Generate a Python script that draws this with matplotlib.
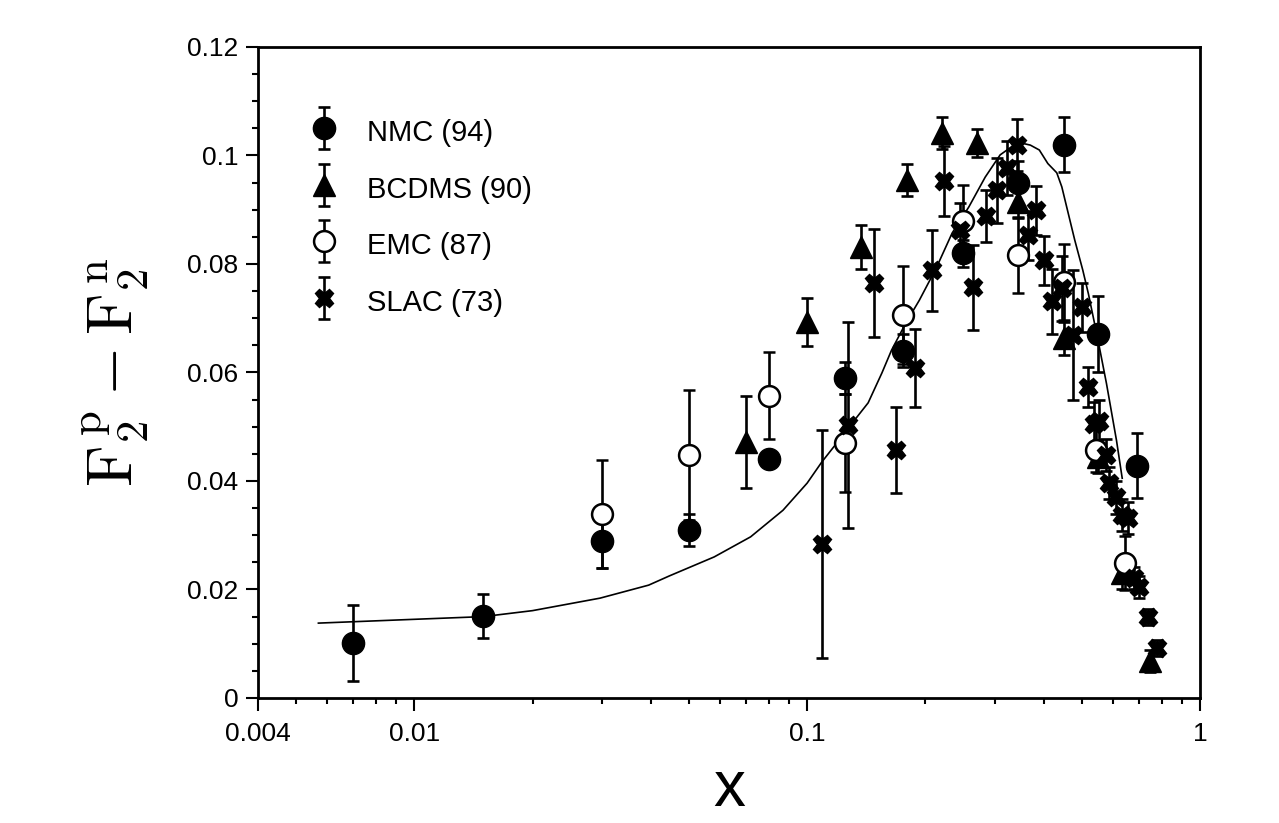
import numpy as np
import matplotlib
matplotlib.use("Agg")
import matplotlib.pyplot as plt
from matplotlib.ticker import FixedLocator, LogLocator, MultipleLocator, NullFormatter
from matplotlib.legend_handler import HandlerErrorbar

plt.rcParams["font.family"] = ["Liberation Sans", "DejaVu Sans"]
plt.rcParams["mathtext.fontset"] = "cm"

# NMC (94)
nmc_x = [0.007, 0.015, 0.03, 0.05, 0.08, 0.125, 0.175, 0.25, 0.345, 0.45, 0.55, 0.69]
nmc_y = [0.0101, 0.0151, 0.0289, 0.0310, 0.0440, 0.0590, 0.0640, 0.0820, 0.0950, 0.1020, 0.0670, 0.0428]
nmc_err = [0.007, 0.004, 0.005, 0.003, 0.001, 0.003, 0.003, 0.0025, 0.004, 0.005, 0.007, 0.006]

# BCDMS (90)
bcdms_x = [0.07, 0.10, 0.137, 0.18, 0.22, 0.27, 0.345, 0.45, 0.55, 0.635, 0.745]
bcdms_y = [0.0472, 0.0693, 0.0831, 0.0955, 0.1041, 0.1023, 0.0914, 0.0663, 0.0445, 0.0230, 0.0068]
bcdms_err = [0.0085, 0.0045, 0.004, 0.003, 0.003, 0.0025, 0.003, 0.003, 0.003, 0.003, 0.002]

# EMC (87)
emc_x = [0.03, 0.05, 0.08, 0.125, 0.175, 0.25, 0.345, 0.45, 0.545, 0.645]
emc_y = [0.0339, 0.0448, 0.0557, 0.0470, 0.0706, 0.0880, 0.0816, 0.0767, 0.0457, 0.0249]
emc_err = [0.010, 0.012, 0.008, 0.009, 0.009, 0.0065, 0.007, 0.007, 0.004, 0.005]

# SLAC (73)
slac_x = [0.109, 0.127, 0.148, 0.168, 0.188, 0.208, 0.223, 0.245, 0.264, 0.285,
          0.305, 0.322, 0.343, 0.364, 0.383, 0.402, 0.421, 0.445, 0.474, 0.500,
          0.520, 0.537, 0.553, 0.578, 0.588, 0.613, 0.634, 0.654, 0.681, 0.700,
          0.736, 0.778]
slac_y = [0.0284, 0.0503, 0.0765, 0.0457, 0.0608, 0.0788, 0.0953, 0.0862, 0.0757, 0.0888,
          0.0936, 0.0977, 0.1019, 0.0853, 0.0899, 0.0807, 0.0731, 0.0755, 0.0669, 0.0720,
          0.0573, 0.0505, 0.0510, 0.0448, 0.0396, 0.0370, 0.0337, 0.0332, 0.0221, 0.0205,
          0.0149, 0.0092]
slac_err = [0.021, 0.019, 0.010, 0.008, 0.0072, 0.0075, 0.0065, 0.005, 0.0078, 0.0048,
            0.006, 0.005, 0.0048, 0.0045, 0.0045, 0.0045, 0.006, 0.006, 0.012, 0.0045,
            0.0037, 0.004, 0.004, 0.003, 0.003, 0.003, 0.003, 0.003, 0.002, 0.002,
            0.0015, 0.0015]

# model curve
curve_x = [0.0057, 0.010, 0.015, 0.020, 0.0297, 0.0395, 0.0446, 0.058, 0.0718, 0.0868,
           0.100, 0.109, 0.119, 0.131, 0.143, 0.155, 0.164, 0.178, 0.193, 0.213,
           0.234, 0.258, 0.284, 0.310, 0.330, 0.350, 0.370, 0.390, 0.410, 0.432,
           0.445, 0.460, 0.480, 0.503, 0.520, 0.550, 0.578, 0.613, 0.634]
curve_y = [0.0138, 0.0145, 0.0150, 0.0161, 0.0184, 0.0208, 0.0225, 0.0260, 0.0297, 0.0346,
           0.0396, 0.0435, 0.0470, 0.0509, 0.0544, 0.0599, 0.0641, 0.0690, 0.0733, 0.0792,
           0.0857, 0.0905, 0.0960, 0.1001, 0.1015, 0.1023, 0.1019, 0.1010, 0.0985, 0.0968,
           0.0942, 0.0899, 0.0844, 0.0789, 0.0745, 0.0660, 0.0580, 0.0475, 0.0405]

fig = plt.figure(figsize=(12.79, 8.23), dpi=100, facecolor="white")
ax = fig.add_axes([0.2017, 0.1519, 0.7365, 0.7911])

ax.plot(curve_x, curve_y, color="black", lw=1.2, zorder=2)

eb_kw = dict(ls="none", ecolor="black", elinewidth=1.9, capsize=4.5, capthick=1.9, zorder=3)
h_nmc = ax.errorbar(nmc_x, nmc_y, yerr=nmc_err, fmt="o", ms=16, mfc="black", mec="black",
                    label="NMC (94)", **eb_kw)
h_bcdms = ax.errorbar(bcdms_x, bcdms_y, yerr=bcdms_err, fmt="^", ms=16, mfc="black", mec="black",
                      label="BCDMS (90)", **eb_kw)
h_emc = ax.errorbar(emc_x, emc_y, yerr=emc_err, fmt="o", ms=15, mfc="white", mec="black",
                    mew=1.8, label="EMC (87)", **eb_kw)
h_slac = ax.errorbar(slac_x, slac_y, yerr=slac_err, fmt="X", ms=13.5, mfc="black", mec="black",
                     label="SLAC (73)", **eb_kw)

ax.set_xscale("log")
ax.set_xlim(0.004, 1)
ax.set_ylim(0, 0.12)

ax.xaxis.set_major_locator(FixedLocator([0.004, 0.01, 0.1, 1]))
ax.set_xticklabels(["0.004", "0.01", "0.1", "1"])
ax.xaxis.set_minor_locator(LogLocator(base=10, subs=np.arange(2, 10), numticks=20))
ax.xaxis.set_minor_formatter(NullFormatter())
ax.set_yticks([0, 0.02, 0.04, 0.06, 0.08, 0.1, 0.12])
ax.set_yticklabels(["0", "0.02", "0.04", "0.06", "0.08", "0.1", "0.12"])
ax.yaxis.set_minor_locator(MultipleLocator(0.005))

ax.tick_params(which="both", direction="out", top=False, right=False, width=1.5, colors="black")
ax.tick_params(which="major", length=9, labelsize=19, pad=5)
ax.tick_params(axis="x", which="major", pad=8)
ax.tick_params(which="minor", length=4.5)
for s in ax.spines.values():
    s.set_linewidth(2)

ax.set_xlabel("x", fontsize=46, labelpad=10)
ax.set_ylabel(r"$\mathrm{F}_2^{\,\mathrm{p}} - \mathrm{F}_2^{\,\mathrm{n}}$", fontsize=46, labelpad=26)

leg = ax.legend(handles=[h_nmc, h_bcdms, h_emc, h_slac], loc="upper left",
                bbox_to_anchor=(0.055, 0.895), frameon=False, fontsize=21,
                handlelength=1.0, handletextpad=0.95, handleheight=1.3, labelspacing=0.85,
                borderaxespad=0, borderpad=0,
                handler_map={type(h_nmc): HandlerErrorbar(yerr_size=0.72)})

fig.savefig("out.png", dpi=100, facecolor="white")
